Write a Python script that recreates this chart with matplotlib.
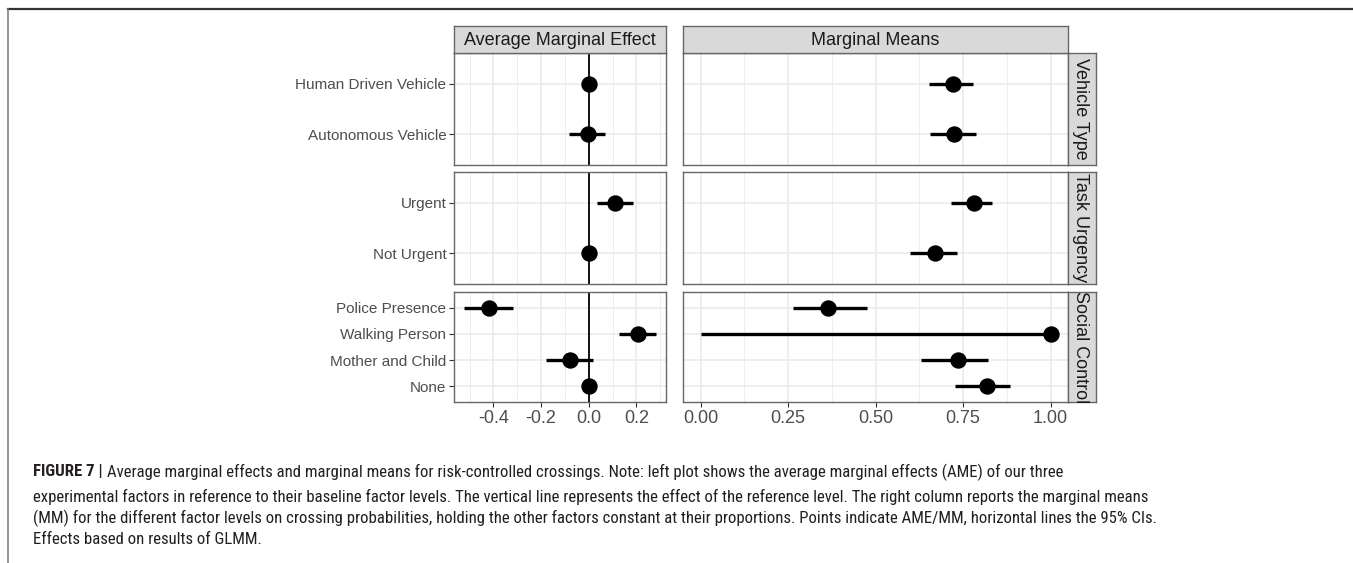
import numpy as np
import matplotlib
matplotlib.use("Agg")
import matplotlib.pyplot as plt
from matplotlib.lines import Line2D
from matplotlib import font_manager

# ---- data -------------------------------------------------------------
facets = ["Vehicle Type", "Task Urgency", "Social Control"]
levels = [
    ["Human Driven Vehicle", "Autonomous Vehicle"],
    ["Urgent", "Not Urgent"],
    ["Police Presence", "Walking Person", "Mother and Child", "None"],
]
# average marginal effects (reference levels are 0 without interval)
ame = [[0.0, -0.005], [0.109, 0.0], [-0.42, 0.206, -0.08, 0.0]]
ame_lo = [[np.nan, -0.081], [0.035, np.nan], [-0.525, 0.126, -0.179, np.nan]]
ame_hi = [[np.nan, 0.070], [0.185, np.nan], [-0.318, 0.284, 0.020, np.nan]]
# marginal means
mm = [[0.720, 0.725], [0.780, 0.669], [0.365, 1.000, 0.737, 0.819]]
mm_lo = [[0.653, 0.655], [0.715, 0.598], [0.265, 0.000, 0.629, 0.726]]
mm_hi = [[0.779, 0.787], [0.834, 0.733], [0.476, 1.000, 0.822, 0.884]]

ame_ticks = [-0.4, -0.2, 0.0, 0.2]
ame_ticklabels = ["-0.4", "-0.2", "0.0", "0.2"]
mm_ticks = [0.0, 0.25, 0.5, 0.75, 1.0]
mm_ticklabels = ["0.00", "0.25", "0.50", "0.75", "1.00"]
col_titles = ["Average Marginal Effect", "Marginal Means"]

caption_bold = "FIGURE 7 | "
caption_lines = [
    "Average marginal effects and marginal means for risk-controlled crossings. Note: left plot shows the average marginal effects (AME) of our three",
    "experimental factors in reference to their baseline factor levels. The vertical line represents the effect of the reference level. The right column reports the marginal means",
    "(MM) for the different factor levels on crossing probabilities, holding the other factors constant at their proportions. Points indicate AME/MM, horizontal lines the 95% CIs.",
    "Effects based on results of GLMM.",
]

# ---- layout (pixels) ---------------------------------------------------
W, H = 1353, 563
fig = plt.figure(figsize=(W / 100, H / 100), dpi=100)
fig.patch.set_facecolor("white")

def box(x0, y0, x1, y1):
    return [x0 / W, 1 - y1 / H, (x1 - x0) / W, (y1 - y0) / H]

col_x = [(454, 666), (683, 1068)]
row_y = [(53, 165), (172, 284), (292, 402)]
strip_top = (26, 53)
strip_right = (1068, 1096)

GRID = "#EBEBEB"
BORDER = "#333333"
TXT = "#4D4D4D"
FONT = ["Liberation Sans", "DejaVu Sans"]
plt.rcParams["font.family"] = FONT
YLAB_SIZE = 11
XLAB_SIZE = 13
STRIP_SIZE = 13

def minor_vals(ticks):
    t = np.asarray(ticks)
    step = t[1] - t[0]
    return np.concatenate([[t[0] - step / 2], (t[:-1] + t[1:]) / 2, [t[-1] + step / 2]])

def expand(lo, hi, mult=0.05):
    d = hi - lo
    return lo - mult * d, hi + mult * d

ame_all = [v for row in ame_lo + ame_hi + ame for v in row if not np.isnan(v)]
mm_all = [v for row in mm_lo + mm_hi + mm for v in row if not np.isnan(v)]
xlims = [expand(min(ame_all), max(ame_all)), expand(min(mm_all), max(mm_all))]

for c in range(2):
    est = [ame, mm][c]
    lo = [ame_lo, mm_lo][c]
    hi = [ame_hi, mm_hi][c]
    ticks = [ame_ticks, mm_ticks][c]
    tlabels = [ame_ticklabels, mm_ticklabels][c]
    for r in range(3):
        ax = fig.add_axes(box(col_x[c][0], row_y[r][0], col_x[c][1], row_y[r][1]))
        n = len(levels[r])
        ypos = np.arange(n)[::-1]
        ax.set_xlim(*xlims[c])
        ax.set_ylim(-0.6, n - 1 + 0.6)
        # grid
        for m in minor_vals(ticks):
            ax.axvline(m, color=GRID, lw=0.6, zorder=0)
        for t in ticks:
            ax.axvline(t, color=GRID, lw=1.2, zorder=0)
        for y in ypos:
            ax.axhline(y, color=GRID, lw=1.2, zorder=0)
        if c == 0:
            ax.axvline(0, color="black", lw=1.3, zorder=1)
        for i in range(n):
            if not np.isnan(lo[r][i]):
                ax.plot([lo[r][i], hi[r][i]], [ypos[i], ypos[i]], color="black",
                        lw=2.4, solid_capstyle="butt", zorder=2)
            ax.plot(est[r][i], ypos[i], "o", color="black", ms=10.8, zorder=3)
        for s in ax.spines.values():
            s.set_color("#666666")
            s.set_linewidth(1.0)
        ax.set_yticks(ypos)
        if c == 0:
            ax.set_yticklabels(levels[r], fontsize=YLAB_SIZE, color=TXT)
        else:
            ax.set_yticklabels([])
        ax.set_xticks(ticks)
        if r == 2:
            ax.set_xticklabels(tlabels, fontsize=XLAB_SIZE, color=TXT)
        else:
            ax.set_xticklabels([])
        ax.tick_params(axis="both", color=BORDER, width=0.8, length=3.5, pad=2)
        if r != 2:
            ax.tick_params(axis="x", length=0)
        if c == 1:
            ax.tick_params(axis="y", length=0)

    # column strip
    sax = fig.add_axes(box(col_x[c][0], strip_top[0], col_x[c][1], strip_top[1]))
    sax.set_xticks([]); sax.set_yticks([])
    sax.set_facecolor("#D9D9D9")
    for s in sax.spines.values():
        s.set_color("#666666"); s.set_linewidth(1.0)
    sax.text(0.5, 0.47, col_titles[c], ha="center", va="center", fontsize=STRIP_SIZE,
             color="#1A1A1A", transform=sax.transAxes)

# row strips
for r in range(3):
    sax = fig.add_axes(box(strip_right[0], row_y[r][0], strip_right[1], row_y[r][1]))
    sax.set_xticks([]); sax.set_yticks([])
    sax.set_facecolor("#D9D9D9")
    for s in sax.spines.values():
        s.set_color("#666666"); s.set_linewidth(1.0)
    sax.text(0.45, 0.5, facets[r], ha="center", va="center", rotation=-90,
             fontsize=STRIP_SIZE, color="#1A1A1A", transform=sax.transAxes)

# page rules
fig.add_artist(Line2D([8 / W, 1352 / W], [1 - 9 / H, 1 - 9 / H], color="#333333",
                      lw=1.6, transform=fig.transFigure))
fig.add_artist(Line2D([8 / W, 8 / W], [1 - 9 / H, 0], color="#777777",
                      lw=1.1, transform=fig.transFigure))

# caption: prefer a narrow sans face when one is installed
available = {f.name for f in font_manager.fontManager.ttflist}
narrow = [n for n in ("Liberation Sans Narrow", "Roboto Condensed",
                      "DejaVu Sans Condensed", "Open Sans Condensed")
          if n in available]
CAP = narrow + ["Liberation Sans", "DejaVu Sans"]
cap_color = "#231F20"
renderer = fig.canvas.get_renderer()

# size the caption so its widest line spans the text block
probe = fig.text(0, 0, caption_lines[1], fontsize=12, family=CAP)
probe_w = probe.get_window_extent(renderer=renderer).width
probe.remove()
cap_size = min(12.5, 12 * 1116 / probe_w)

x0 = 33 / W
line_y = [472, 497, 518, 539]
tb = fig.text(x0, 1 - line_y[0] / H, caption_bold, fontsize=cap_size, fontweight="bold",
              family=CAP, color=cap_color, va="center", ha="left")
bb = tb.get_window_extent(renderer=renderer)
fig.text(bb.x1 / W, 1 - line_y[0] / H, caption_lines[0], fontsize=cap_size,
         family=CAP, color=cap_color, va="center", ha="left")
for i in range(1, 4):
    fig.text(x0, 1 - line_y[i] / H, caption_lines[i], fontsize=cap_size,
             family=CAP, color=cap_color, va="center", ha="left")

fig.savefig("out.png", dpi=100, facecolor="white")
